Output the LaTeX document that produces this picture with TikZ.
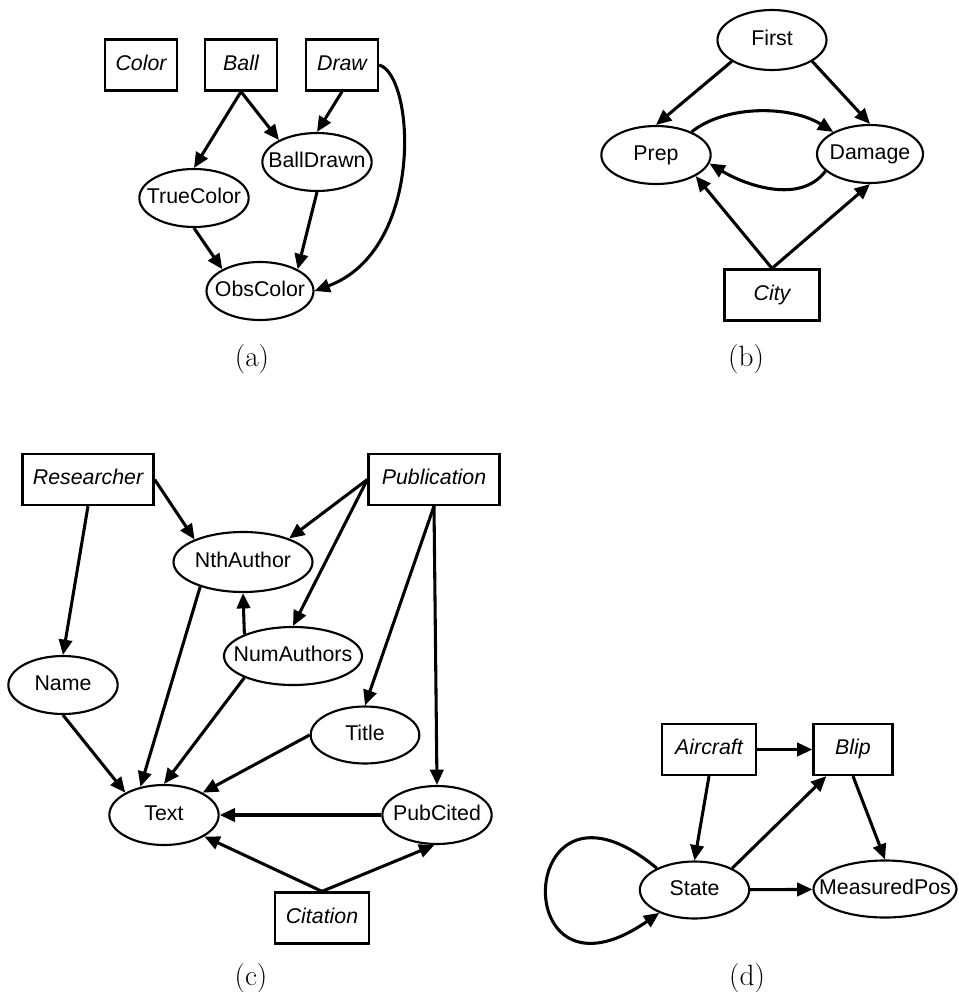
\documentclass[tikz,border=0pt]{standalone}
\usepackage{fontspec}
\setsansfont{Liberation Sans}
\usetikzlibrary{arrows.meta,shapes.geometric}

\tikzset{
  cls/.style={draw, rectangle, line width=1.7pt, minimum height=38.25pt, inner sep=0pt,
    text height=11.5pt, text depth=3.4pt, font=\sffamily\itshape\fontsize{16}{19}\selectfont},
  var/.style={draw, ellipse, line width=1.6pt, minimum width=82pt, minimum height=43.5pt,
    inner xsep=-40pt, inner ysep=0pt, text height=11.5pt, text depth=3.4pt,
    font=\sffamily\fontsize{16}{19}\selectfont},
  link/.style={->, line width=2.3pt},
  subcap/.style={anchor=base, font=\fontsize{22}{26}\selectfont}
}

\begin{document}
\begin{tikzpicture}[x=0.75pt, y=-0.75pt, >={Triangle[length=11.5pt,width=10pt]}]
  \useasboundingbox (0,0) rectangle (959,992);

  % (a)
  \node[cls, minimum width=54pt] (color) at (141,65) {Color};
  \node[cls, minimum width=54pt] (ball) at (241,65) {Ball};
  \node[cls, minimum width=54pt] (drawcls) at (342,65) {Draw};
  \node[var] (bd) at (317,162) {BallDrawn};
  \node[var] (tc) at (194,198) {TrueColor};
  \node[var, minimum width=80.25pt] (obs) at (260,291) {ObsColor};
  \draw[link] (ball.south) -- (tc.north);
  \draw[link] (ball.south) -- (bd.150);
  \draw[link] (drawcls.south) -- (bd.north);
  \draw[link] (tc.south) -- (obs.150);
  \draw[link] (bd.south) -- (obs.30);
  \draw[link] (drawcls.east) .. controls (415,75) and (425,250) .. (obs.east);
  \node[subcap] (capa) at (252,366) {(a)};

  % (b)
  \node[var, minimum width=81.75pt, minimum height=45pt] (first) at (772,40) {First};
  \node[var] (prep) at (656,155) {Prep};
  \node[var, minimum width=79.5pt] (damage) at (870,154) {Damage};
  \node[cls, minimum width=71.25pt] (city) at (772,295) {City};
  \draw[link] (first.208) -- (prep.north);
  \draw[link] (first.332) -- (damage.north);
  \draw[link] (prep.33) .. controls (725,105) and (790,105) .. (damage.149);
  \draw[link] (damage.201) .. controls (800,205) and (745,185) .. (prep.-9);
  \draw[link] (city.north) -- (prep.-28);
  \draw[link] (city.north) -- (damage.south);
  \node[subcap] (capb) at (746,366) {(b)};

  % (c)
  \node[cls, minimum width=98.25pt] (researcher) at (88,479.5) {Researcher};
  \node[cls, minimum width=98.25pt] (publication) at (434,479.5) {Publication};
  \node[var, minimum width=104.25pt, minimum height=45pt] (nth) at (243,562) {NthAuthor};
  \node[var, minimum width=103.5pt] (num) at (293,656) {NumAuthors};
  \node[var] (name) at (63,685) {Name};
  \node[var, minimum width=81.5pt, minimum height=42.75pt] (title) at (365,735) {Title};
  \node[var, minimum height=45pt] (text) at (164,815) {Text};
  \node[var] (pubcited) at (437,815) {PubCited};
  \node[cls, minimum width=70.5pt] (citation) at (322,918) {Citation};
  \draw[link] (researcher.east) -- (nth.155);
  \draw[link] (researcher.south) -- (name.north);
  \draw[link] (publication.west) -- (nth.27);
  \draw[link] (publication.west) -- (num.north);
  \draw[link] (publication.south) -- (title.north);
  \draw[link] (publication.south) -- (pubcited.north);
  \draw[link] (num.156) -- (nth.south);
  \draw[link] (nth.210) -- (text.130);
  \draw[link] (num.204) -- (text.north);
  \draw[link] (name.south) -- (text.150);
  \draw[link] (title.west) -- (text.30);
  \draw[link] (pubcited.west) -- (text.east);
  \draw[link] (citation.north) -- (text.332);
  \draw[link] (citation.north) -- (pubcited.265);
  \node[subcap] (capc) at (251,985) {(c)};

  % (d)
  \node[cls, minimum width=70.5pt] (aircraft) at (709,749.5) {Aircraft};
  \node[cls, minimum width=59.25pt] (blip) at (853,749.5) {Blip};
  \node[var, minimum height=42.75pt] (state) at (694.5,890) {State};
  \node[var, minimum width=107.25pt, minimum height=42.75pt] (mp) at (885,889) {MeasuredPos};
  \draw[link] (aircraft) -- (blip);
  \draw[link] (aircraft.south) -- (state.north);
  \draw[link] (state.30) -- (blip.225);
  \draw[link] (blip.south) -- (mp.north);
  \draw[link] (state) -- (mp);
  \draw[link] (state.150) .. controls (515,750) and (505,1020) .. (state.213);
  \node[subcap] (capd) at (747,985) {(d)};
\end{tikzpicture}
\end{document}
